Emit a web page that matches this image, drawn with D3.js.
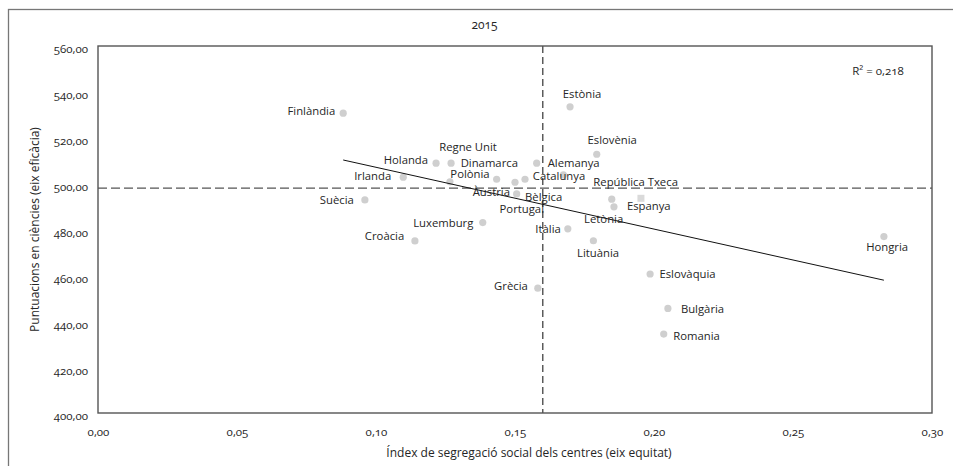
<!DOCTYPE html>
<html>
<head>
<meta charset="utf-8">
<script src="https://cdn.jsdelivr.net/npm/d3@7"></script>
<style>
  html, body { margin: 0; padding: 0; background: #fff; }
  svg { display: block; }
  text { font-family: "Open Sans", "Noto Sans", sans-serif; font-variant-numeric: oldstyle-nums; fill: #262626; }
</style>
</head>
<body>
<div id="chart"></div>
<script>
// ---- Data ----
const countries = ["Finlàndia","Holanda","Regne Unit","Alemanya","Irlanda","Dinamarca","Polònia","Bèlgica","Portugal","Catalunya","Àustria","Luxemburg","Croàcia","Suècia","Estònia","Eslovènia","República Txeca","Letònia","Espanya","Itàlia","Lituània","Hongria","Eslovàquia","Grècia","Bulgària","Romania"];
const segregation = [0.0882,0.1216,0.1270,0.1578,0.1098,0.1266,0.1434,0.1500,0.1536,0.1674,0.1506,0.1384,0.1140,0.0960,0.1698,0.1794,0.1848,0.1856,0.1953,0.1690,0.1782,0.2827,0.1986,0.1582,0.2050,0.2035];
const scores      = [530.7,508.9,508.9,508.9,502.8,500.8,501.9,500.6,501.9,503.8,495.5,483.0,475.0,492.9,533.5,512.8,493.2,489.9,493.6,480.3,475.1,476.9,460.6,454.4,445.6,434.4];
const highlighted = ["Espanya"];
const xTicks = [0,0.05,0.10,0.15,0.20,0.25,0.30];
const yTicks = [400,420,440,460,480,500,520,540,560];
const trendX = [0.0882, 0.2827];
const trendY = [510.3, 457.9];
const meanX = 0.16;
const meanY = 498;
const rSquared = "R² = 0,218";
const title = "2015";
const xTitle = "Índex de segregació social dels centres (eix equitat)";
const yTitle = "Puntuacions en ciències (eix eficàcia)";

// ---- Label placement (layout, in px relative to each point) ----
const labelPlace = {
  "Finlàndia": ["end",-8,-2], "Holanda": ["end",-8,-3], "Regne Unit": ["middle",17,-16.5],
  "Alemanya": ["start",11,-0.5], "Irlanda": ["end",-12,-1.5], "Dinamarca": ["start",10.7,-18.8],
  "Polònia": ["end",-7,-5], "Bèlgica": ["start",10,14.4], "Portugal": ["end",19,30],
  "Catalunya": ["start",-30.5,1.5], "Àustria": ["end",-6.7,-2.3], "Luxemburg": ["end",-9.4,0],
  "Croàcia": ["end",-10.7,-5], "Suècia": ["end",-11,0], "Estònia": ["middle",12,-12.7],
  "Eslovènia": ["middle",15.5,-14.3], "República Txeca": ["start",-18.4,-17.6],
  "Letònia": ["middle",-10.3,12.3], "Espanya": ["start",-14,7.4], "Itàlia": ["end",-7,0],
  "Lituània": ["middle",4.7,12.6], "Hongria": ["middle",3.2,10.6], "Eslovàquia": ["start",9.3,0],
  "Grècia": ["end",-10,-2.3], "Bulgària": ["start",13,1], "Romania": ["start",9.6,1.7]
};

const W = 953, H = 466;
const m = { left: 98, top: 46, right: W - 932, bottom: H - 413 };

const svg = d3.select("#chart").append("svg").attr("width", W).attr("height", H);

// outer chart frame (extends past the picture on the right and bottom)
svg.append("rect").attr("x", 8.5).attr("y", 9.5).attr("width", 960).attr("height", 470)
  .attr("fill", "none").attr("stroke", "#777").attr("stroke-width", 1.3);

const x = d3.scaleLinear().domain([0, 0.30]).range([m.left, W - m.right]);
const y = d3.scaleLinear().domain([400, 560]).range([H - m.bottom, m.top]);

const fmt2 = v => d3.format(".2f")(v).replace(".", ",");

// axes (labels only, no tick marks)
const xAxis = d3.axisBottom(x).tickValues(xTicks).tickFormat(fmt2).tickSize(0).tickPadding(0);
const yAxis = d3.axisLeft(y).tickValues(yTicks).tickFormat(fmt2).tickSize(0).tickPadding(0);

const gx = svg.append("g").attr("transform", `translate(0,${H - m.bottom})`).call(xAxis);
gx.select(".domain").remove();
gx.selectAll("text").attr("y", 23).attr("dy", "0").style("font-size", "11.5px").attr("fill", "#333");

const gy = svg.append("g").attr("transform", `translate(${m.left},0)`).call(yAxis);
gy.select(".domain").remove();
gy.selectAll("text").attr("x", -10).attr("dy", "0.6em").style("font-size", "11.5px").attr("fill", "#333");

// mean lines
svg.append("line").attr("x1", x(meanX)).attr("x2", x(meanX)).attr("y1", y(560)).attr("y2", y(400))
  .attr("stroke", "#333").attr("stroke-width", 1.2).attr("stroke-dasharray", "7,4");
svg.append("line").attr("x1", x(0)).attr("x2", x(0.30)).attr("y1", y(meanY)).attr("y2", y(meanY))
  .attr("stroke", "#555").attr("stroke-width", 1.3).attr("stroke-dasharray", "9,4");

// points
const data = countries.map((c, i) => ({ name: c, sx: segregation[i], sy: scores[i] }));
svg.append("g").selectAll("circle").data(data.filter(d => !highlighted.includes(d.name))).join("circle")
  .attr("cx", d => x(d.sx)).attr("cy", d => y(d.sy)).attr("r", 3.6).attr("fill", "#cfcfcf");
svg.append("g").selectAll("rect").data(data.filter(d => highlighted.includes(d.name))).join("rect")
  .attr("x", d => x(d.sx) - 3.5).attr("y", d => y(d.sy) - 3.5).attr("width", 7).attr("height", 7).attr("fill", "#dadada");

// trend line
svg.append("line").attr("x1", x(trendX[0])).attr("y1", y(trendY[0])).attr("x2", x(trendX[1])).attr("y2", y(trendY[1]))
  .attr("stroke", "#111").attr("stroke-width", 1);

// plot frame
svg.append("rect").attr("x", m.left).attr("y", m.top).attr("width", W - m.right - m.left).attr("height", H - m.bottom - m.top)
  .attr("fill", "none").attr("stroke", "#555").attr("stroke-width", 1.4);

// labels
svg.append("g").selectAll("text").data(data).join("text")
  .attr("x", d => x(d.sx) + labelPlace[d.name][1])
  .attr("y", d => y(d.sy) + labelPlace[d.name][2])
  .attr("dy", "0.35em")
  .attr("text-anchor", d => labelPlace[d.name][0])
  .style("font-size", "11.3px")
  .text(d => d.name);

// titles
svg.append("text").attr("x", 484.5).attr("y", 25).attr("dy", "0.35em").attr("text-anchor", "middle")
  .style("font-size", "12px").text(title);
svg.append("text").attr("x", 878).attr("y", 71).attr("dy", "0.35em").attr("text-anchor", "middle")
  .style("font-size", "11.5px").text(rSquared);
svg.append("text").attr("x", 529).attr("y", 453).attr("dy", "0.35em").attr("text-anchor", "middle")
  .style("font-size", "12px").text(xTitle);
svg.append("text").attr("transform", `translate(35,${(m.top + H - m.bottom) / 2}) rotate(-90)`)
  .attr("dy", "0.35em").attr("text-anchor", "middle")
  .style("font-size", "12px").text(yTitle);
</script>
</body>
</html>
